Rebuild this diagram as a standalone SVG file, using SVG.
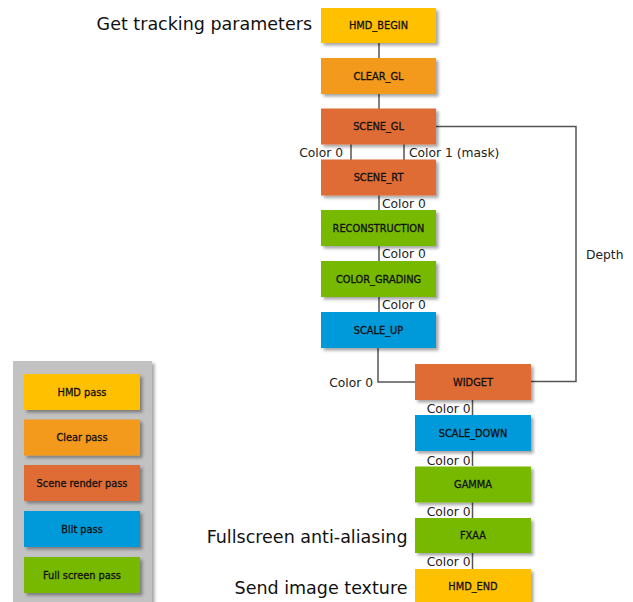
<svg xmlns="http://www.w3.org/2000/svg" width="633" height="602" viewBox="0 0 633 602">
<defs>
<filter id="sh" x="-10%" y="-20%" width="130%" height="150%">
<feDropShadow dx="2.5" dy="2.5" stdDeviation="1.8" flood-color="#000" flood-opacity="0.35"/>
</filter>
<style>
.box{filter:url(#sh)}
.hmd{fill:#FFC000}
.clr{fill:#F39A1B}
.scn{fill:#E06C35}
.blt{fill:#0099DA}
.fsp{fill:#76B900}
.bl{font-family:"DejaVu Sans",Verdana,sans-serif;font-size:9.8px;fill:#111;stroke:#111;stroke-width:0.3;text-anchor:middle}
.lbl{font-family:"DejaVu Sans",Verdana,sans-serif;font-size:12.3px;fill:#222}
.big{font-family:"DejaVu Sans",Verdana,sans-serif;font-size:17.5px;fill:#111;text-anchor:end}
.ln{stroke:#555;stroke-width:1.5;fill:none}
</style>
</defs>
<rect width="633" height="602" fill="#fff"/>

<!-- legend -->
<g id="legend">
<rect x="13" y="361" width="139" height="245" fill="#C2C2C2" filter="url(#sh)"/>
<g id="leg-hmd"><rect class="box hmd" x="24" y="374" width="116" height="36"/><text class="bl" x="82" y="395.5">HMD pass</text></g>
<g id="leg-clear"><rect class="box clr" x="24" y="419.5" width="116" height="36"/><text class="bl" x="82" y="441">Clear pass</text></g>
<g id="leg-scene"><rect class="box scn" x="24" y="465" width="116" height="36"/><text class="bl" x="82" y="486.5">Scene render pass</text></g>
<g id="leg-blit"><rect class="box blt" x="24" y="511" width="116" height="36"/><text class="bl" x="82" y="532.5">Blit pass</text></g>
<g id="leg-fs"><rect class="box fsp" x="24" y="557" width="116" height="36"/><text class="bl" x="82" y="578.5">Full screen pass</text></g>
</g>

<!-- connectors -->
<g id="connectors">
<line class="ln" x1="379" y1="43" x2="379" y2="58"/>
<line class="ln" x1="379" y1="94" x2="379" y2="109"/>
<line class="ln" x1="351" y1="144" x2="351" y2="160"/>
<line class="ln" x1="404" y1="144" x2="404" y2="160"/>
<line class="ln" x1="379" y1="195" x2="379" y2="210"/>
<line class="ln" x1="379" y1="246" x2="379" y2="261"/>
<line class="ln" x1="379" y1="297" x2="379" y2="312"/>
<polyline class="ln" points="378,348 378,382 415,382"/>
<polyline class="ln" points="436,126.5 576,126.5 576,381.5 531,381.5"/>
<line class="ln" x1="472.5" y1="400" x2="472.5" y2="415"/>
<line class="ln" x1="472.5" y1="451" x2="472.5" y2="466"/>
<line class="ln" x1="472.5" y1="502" x2="472.5" y2="518"/>
<line class="ln" x1="472.5" y1="553" x2="472.5" y2="569"/>
<text class="lbl" x="343" y="157" text-anchor="end">Color 0</text>
<text class="lbl" x="409" y="157">Color 1 (mask)</text>
<text class="lbl" x="382" y="207.5">Color 0</text>
<text class="lbl" x="382" y="258">Color 0</text>
<text class="lbl" x="382" y="309">Color 0</text>
<text class="lbl" x="373" y="386.5" text-anchor="end">Color 0</text>
<text class="lbl" x="586" y="258.5">Depth</text>
<text class="lbl" x="470.5" y="413" text-anchor="end">Color 0</text>
<text class="lbl" x="470.5" y="464.5" text-anchor="end">Color 0</text>
<text class="lbl" x="470.5" y="516" text-anchor="end">Color 0</text>
<text class="lbl" x="470.5" y="566" text-anchor="end">Color 0</text>
</g>

<!-- nodes -->
<g id="HMD_BEGIN"><rect class="box hmd" x="321" y="8" width="115" height="35"/><text class="bl" x="378.5" y="29">HMD_BEGIN</text></g>
<g id="CLEAR_GL"><rect class="box clr" x="321" y="58" width="115" height="36"/><text class="bl" x="378.5" y="79.5">CLEAR_GL</text></g>
<g id="SCENE_GL"><rect class="box scn" x="321" y="108.5" width="115" height="36"/><text class="bl" x="378.5" y="130">SCENE_GL</text></g>
<g id="SCENE_RT"><rect class="box scn" x="321" y="159.5" width="115" height="36"/><text class="bl" x="378.5" y="181">SCENE_RT</text></g>
<g id="RECONSTRUCTION"><rect class="box fsp" x="321" y="210" width="115" height="36"/><text class="bl" x="378.5" y="231.5">RECONSTRUCTION</text></g>
<g id="COLOR_GRADING"><rect class="box fsp" x="321" y="261" width="115" height="36"/><text class="bl" x="378.5" y="282.5">COLOR_GRADING</text></g>
<g id="SCALE_UP"><rect class="box blt" x="321" y="312" width="115" height="36"/><text class="bl" x="378.5" y="333.5">SCALE_UP</text></g>
<g id="WIDGET"><rect class="box scn" x="415" y="364" width="116" height="36"/><text class="bl" x="473" y="385.5">WIDGET</text></g>
<g id="SCALE_DOWN"><rect class="box blt" x="415" y="415" width="116" height="36"/><text class="bl" x="473" y="436.5">SCALE_DOWN</text></g>
<g id="GAMMA"><rect class="box fsp" x="415" y="466.5" width="116" height="36"/><text class="bl" x="473" y="488">GAMMA</text></g>
<g id="FXAA"><rect class="box fsp" x="415" y="518" width="116" height="35"/><text class="bl" x="473" y="539">FXAA</text></g>
<g id="HMD_END"><rect class="box hmd" x="415" y="569" width="116" height="36"/><text class="bl" x="473" y="590">HMD_END</text></g>

<!-- side annotations -->
<text class="big" x="312" y="30">Get tracking parameters</text>
<text class="big" x="407.5" y="543">Fullscreen anti-aliasing</text>
<text class="big" x="407.5" y="594">Send image texture</text>
</svg>
